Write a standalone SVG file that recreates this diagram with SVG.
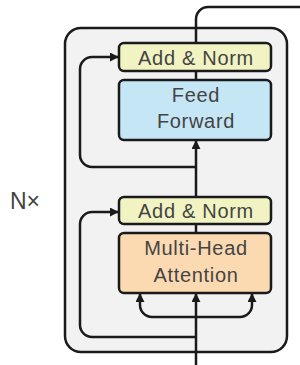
<svg xmlns="http://www.w3.org/2000/svg" width="300" height="365" viewBox="0 0 300 365">
<defs>
<style>
.box{stroke:#1a1a1a;stroke-width:2.5}
.an{fill:#f1f4c2}
.ff{fill:#c4e6f5}
.mh{fill:#fbdab2}
.t{font-family:"Liberation Sans",Arial,sans-serif;font-size:20px;fill:#444;text-anchor:middle;letter-spacing:0.7px}
.c{fill:none;stroke:#1a1a1a;stroke-width:2.5}
</style>
<marker id="ah" viewBox="0 0 10 10" refX="9" refY="5" markerWidth="9" markerHeight="9" markerUnits="userSpaceOnUse" orient="auto">
<path d="M0,0 L10,5 L0,10 z" fill="#1a1a1a"/>
</marker>
</defs>
<rect id="frame" x="65" y="28" width="222" height="324" rx="16" fill="#f2f2f2" stroke="#1a1a1a" stroke-width="2.5"/>
<g id="connectors">
<path class="c" d="M196,43 V19 A12,12 0 0 1 208,7 H300"/>
<path class="c" d="M196,167 H92 A12,12 0 0 1 80,155 V69 A12,12 0 0 1 92,57 H118" marker-end="url(#ah)"/>
<path class="c" d="M196,337 H92 A12,12 0 0 1 80,325 V224 A12,12 0 0 1 92,212 H118" marker-end="url(#ah)"/>
<path class="c" d="M196,365 V294" marker-end="url(#ah)"/>
<path class="c" d="M196,224 V233"/>
<path class="c" d="M196,197 V141" marker-end="url(#ah)"/>
<path class="c" d="M196,71 V80"/>
<path class="c" d="M196,317 H152 A12,12 0 0 1 140,305 V294" marker-end="url(#ah)"/>
<path class="c" d="M196,317 H240 A12,12 0 0 0 252,305 V294" marker-end="url(#ah)"/>
</g>
<g id="addnorm2">
<rect class="box an" x="119" y="43" width="152" height="28" rx="5"/>
<text class="t" x="196" y="65">Add &amp; Norm</text>
</g>
<g id="feedforward">
<rect class="box ff" x="119" y="80" width="152" height="60" rx="5"/>
<text class="t" x="196" y="102">Feed</text>
<text class="t" x="196" y="128">Forward</text>
</g>
<g id="addnorm1">
<rect class="box an" x="119" y="197" width="152" height="27" rx="5"/>
<text class="t" x="196" y="218">Add &amp; Norm</text>
</g>
<g id="multihead">
<rect class="box mh" x="119" y="233" width="152" height="60" rx="5"/>
<text class="t" x="196" y="255">Multi-Head</text>
<text class="t" x="196" y="282">Attention</text>
</g>
<g id="nx">
<text x="10" y="209" font-family="Liberation Sans,Arial,sans-serif" font-size="23" fill="#444">N×</text>
</g>
</svg>
